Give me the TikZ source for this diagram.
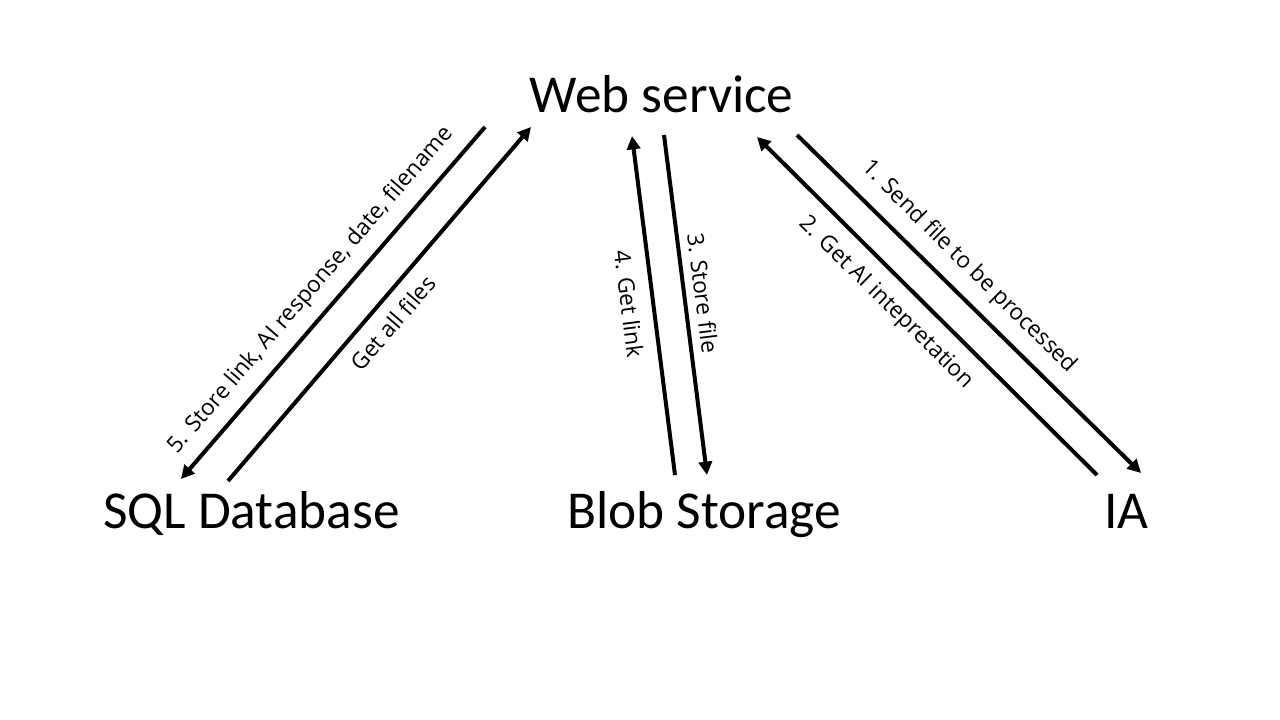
\documentclass[tikz,border=0pt]{standalone}
\usepackage{fontspec}
\setmainfont{Carlito}
\newfontfamily\lblfont{Open Sans}
\usetikzlibrary{arrows.meta}
\begin{document}
\begin{tikzpicture}[x=0.75pt,y=-0.75pt,
  big/.style={font=\fontsize{40}{44}\selectfont, inner sep=0pt, anchor=base},
  lbl/.style={font=\lblfont\fontsize{17}{20}\selectfont, inner sep=0pt},
  conn/.style={line width=3pt, -{Triangle[length=10pt,width=10pt]}}]
\useasboundingbox (0,0) rectangle (1280,720);
\fill[white] (0,0) rectangle (1280,720);
\node[big] (web) at (661.5,113) {Web service};
\node[big] (sql) at (251.5,528) {SQL Database};
\node[big] (blob) at (704,528) {Blob Storage};
\node[big] (ia) at (1126.5,528) {IA};
% anchor coordinates for connector ends
\coordinate (w1) at (485,127); \coordinate (s1) at (181,479);
\coordinate (s2) at (228,481); \coordinate (w2) at (531,127);
\coordinate (b3) at (675,475); \coordinate (w3) at (632,136);
\coordinate (w4) at (664,135); \coordinate (b4) at (707,475);
\coordinate (i5) at (1097,475); \coordinate (w5) at (757,137);
\coordinate (w6) at (797,135); \coordinate (i6) at (1141,473);
\draw[conn] (w1) -- (s1);
\draw[conn] (s2) -- (w2);
\draw[conn] (b3) -- (w3);
\draw[conn] (w4) -- (b4);
\draw[conn] (i5) -- (w5);
\draw[conn] (w6) -- (i6);
\node[lbl, rotate=49.3] (l5) at (311,290) {5. Store link, AI response, date, filename};
\node[lbl, rotate=49.3] (lg) at (393,323) {Get all files};
\node[lbl, rotate=-82.8] (l4) at (629,304) {4. Get link};
\node[lbl, rotate=-82.8] (l3) at (703,293) {3. Store file};
\node[lbl, rotate=-44.6] (l1) at (969,267) {1. Send file to be processed};
\node[lbl, rotate=-44.6] (l2) at (886,303) {2. Get AI intepretation};
\end{tikzpicture}
\end{document}
